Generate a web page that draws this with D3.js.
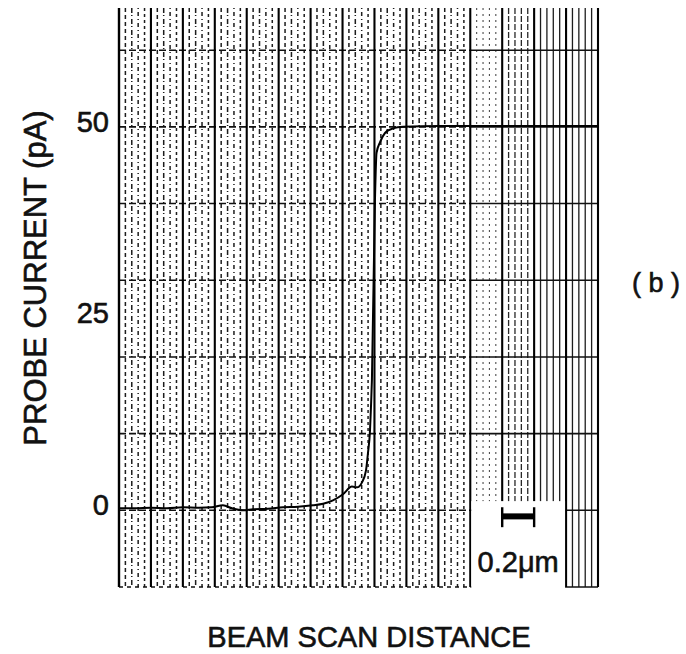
<!DOCTYPE html>
<html><head><meta charset="utf-8">
<script src="https://cdn.jsdelivr.net/npm/d3@7"></script>
<style>
body{margin:0;background:#fff}
svg{display:block}
text{font-family:"Liberation Sans",Arial,Helvetica,sans-serif;fill:#111;stroke:#111;stroke-width:0.6px}
</style></head>
<body><svg id="chart" width="686" height="654"></svg>
<script>
// ---- data ----
const scanDistance = [0.000,0.100,0.200,0.300,0.401,0.501,0.582,0.651,0.708,0.777,0.839,0.933,1.027,1.121,1.215,1.278,1.340,1.403,1.459,1.491,1.522,1.547,1.559,1.572,1.578,1.584,1.603,1.613,1.635,1.666,1.716,1.779,2.010,2.386,3.000];
const probeCurrent = [0.26,0.26,0.33,0.26,0.39,0.33,0.39,0.65,0.26,0.0,0.13,0.2,0.39,0.46,0.65,0.85,1.3,2.1,3.1,3.0,3.65,5.2,7.4,10.4,13.4,17.0,40.4,46.6,48.0,49.2,49.8,50.0,50.1,50.1,50.1];
const yTickValues = [0, 25, 50];
const yTickLabels = ["0", "25", "50"];
const gridCurrents = [-10, 0, 10, 20, 30, 40, 50, 60];
const majorDistances = [0,0.2,0.4,0.6,0.8,1.0,1.2,1.4,1.6,1.8,2.0,2.2,2.4,2.6,2.8,3.0];
const scaleBarStart = 2.4, scaleBarLength = 0.2;
const scaleBarLabel = "0.2μm";
const xTitle = "BEAM SCAN DISTANCE";
const yTitle = "PROBE CURRENT (pA)";
const panelLabel = "( b )";

const svg = d3.select("#chart");
const x = d3.scaleLinear().domain([0, 3.0]).range([119, 598]);
const y = d3.scaleLinear().domain([-10, 65.5]).range([587, 8]);
const denseFrom = 2.2;

const grid = svg.append("g");
// minor vertical lines
majorDistances.slice(0, -1).forEach((d0, i) => {
  for (let k = 1; k <= 4; k++) {
    const d = d0 + k * 0.04;
    let dash, w = 1.5, op = 0.95;
    if (i === 11) { dash = "2,4"; w = 1.1; op = 0.75; }
    else if (i === 12) { dash = "6,2"; w = 1.3; op = 0.9; }
    else if (i >= 13) { dash = null; w = 1.3; op = 0.95; }
    else { dash = ["4,3","5,2,1,3","1,3,4,3","3,3"][k-1]; }
    grid.append("line")
      .attr("x1", x(d)).attr("x2", x(d))
      .attr("y1", y(65.5)).attr("y2", y(-10))
      .attr("stroke", "#111").attr("stroke-width", w)
      .attr("stroke-opacity", op)
      .attr("stroke-dasharray", dash);
  }
});
// horizontal grid lines
gridCurrents.forEach(v => {
  grid.append("line")
    .attr("x1", x(0)).attr("x2", x(denseFrom))
    .attr("y1", y(v)).attr("y2", y(v))
    .attr("stroke", "#111").attr("stroke-width", 1.6)
    .attr("stroke-dasharray", v === -10 ? "4,4" : "7,3");
  grid.append("line")
    .attr("x1", x(denseFrom)).attr("x2", x(3.0))
    .attr("y1", y(v)).attr("y2", y(v))
    .attr("stroke", "#111").attr("stroke-width", 1.6);
});
// major vertical lines
grid.selectAll("line.major").data(majorDistances).enter().append("line")
  .attr("class", "major")
  .attr("x1", d => x(d)).attr("x2", d => x(d))
  .attr("y1", y(65.5)).attr("y2", y(-10))
  .attr("stroke", "#000").attr("stroke-width", d => d === 0 ? 2.4 : 2.1);

// trace
const line = d3.line().x(d => x(d[0])).y(d => y(d[1])).curve(d3.curveMonotoneX);
svg.append("path")
  .datum(scanDistance.map((d, i) => [d, probeCurrent[i]]))
  .attr("d", line)
  .attr("fill", "none").attr("stroke", "#000").attr("stroke-width", 2);

// scale-bar label panel
const sb = svg.append("g");
sb.append("rect")
  .attr("x", x(2.2) + 1).attr("y", y(1.2))
  .attr("width", x(2.8) - x(2.2) - 2).attr("height", 654 - y(1.2) - 50)
  .attr("fill", "#fff");
const bx0 = x(scaleBarStart), bx1 = x(scaleBarStart + scaleBarLength);
sb.append("rect").attr("x", bx0).attr("y", y(-0.4)).attr("width", bx1 - bx0).attr("height", 6).attr("fill", "#000");
[bx0, bx1].forEach(bx => sb.append("line")
  .attr("x1", bx).attr("x2", bx).attr("y1", y(0.4)).attr("y2", y(-2.2))
  .attr("stroke", "#000").attr("stroke-width", 2.4));
sb.append("text")
  .attr("x", (bx0 + bx1) / 2).attr("y", 572)
  .attr("text-anchor", "middle").attr("font-size", 29)
  .text(scaleBarLabel);

// y axis labels
const yAxis = d3.axisLeft(y).tickValues(yTickValues)
  .tickFormat((d, i) => yTickLabels[i]).tickSize(0).tickPadding(10);
const ya = svg.append("g").attr("transform", `translate(${x(0)},0)`).call(yAxis);
ya.select(".domain").remove();
ya.selectAll("text").attr("font-size", 29).attr("dy", "0.15em")
  .style("font-family", '"Liberation Sans",Arial,sans-serif')
  .attr("fill", "#111").attr("stroke", "#111").attr("stroke-width", 0.6);

// titles
svg.append("text")
  .attr("transform", "translate(46,278) rotate(-90)")
  .attr("text-anchor", "middle").attr("font-size", 31)
  .text(yTitle);
svg.append("text")
  .attr("x", 369).attr("y", 647)
  .attr("text-anchor", "middle").attr("font-size", 29)
  .text(xTitle);
svg.append("text")
  .attr("x", 632).attr("y", 292)
  .attr("font-size", 27)
  .attr("xml:space", "preserve")
  .style("white-space", "pre")
  .text(panelLabel);
</script></body></html>
